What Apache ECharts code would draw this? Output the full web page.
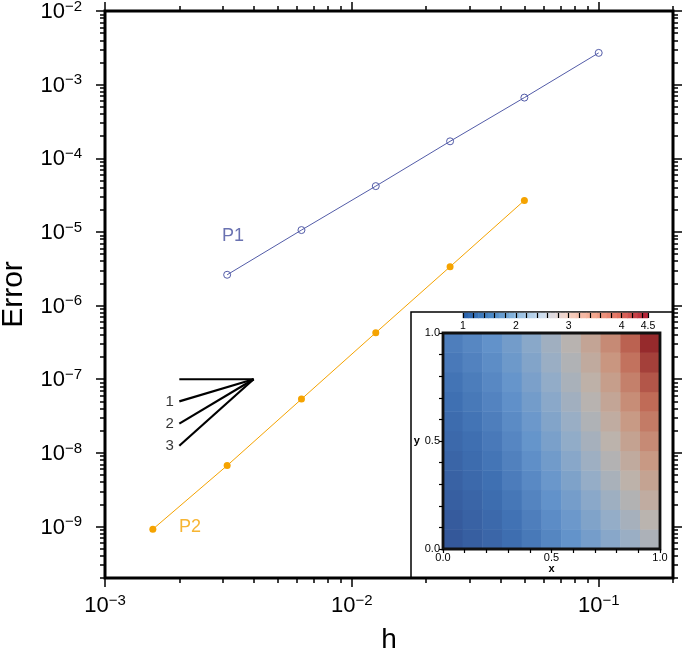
<!DOCTYPE html>
<html><head><meta charset="utf-8">
<script src="https://cdn.jsdelivr.net/npm/echarts@6/dist/echarts.min.js"></script>
<style>html,body{margin:0;padding:0;background:#fff}#c{width:685px;height:659px}</style>
</head><body><div id="c"></div>
<script>
// ---- data ----
const hP1 = [0.1, 0.05, 0.025, 0.0125, 0.00625, 0.003125];
const errP1 = [2.70e-3, 6.67e-4, 1.70e-4, 4.19e-5, 1.06e-5, 2.62e-6];
const hP2 = [0.05, 0.025, 0.0125, 0.00625, 0.003125, 0.0015625];
const errP2 = [2.68e-5, 3.37e-6, 4.28e-7, 5.37e-8, 6.73e-9, 9.2e-10];
const seriesNames = ['P1', 'P2'];
const labelPosP1 = [0.00330, 8.87e-6];
const labelPosP2 = [0.00221, 9.8e-10];
const slopeH = [0.002, 0.004];
const slopeApexErr = 1e-7;
const slopeOrders = [1, 2, 3];
const slopeEndErr = [5e-8, 2.5e-8, 1.25e-8];
const xRange = [1e-3, 0.2];
const yRange = [2e-10, 1e-2];
const xMajorTicks = [1e-3, 1e-2, 1e-1];
const yMajorTicks = [1e-10, 1e-9, 1e-8, 1e-7, 1e-6, 1e-5, 1e-4, 1e-3, 1e-2];
const minorMultipliers = [2, 3, 4, 5, 6, 7, 8, 9];
const insetX = [0, 0.1, 0.2, 0.3, 0.4, 0.5, 0.6, 0.7, 0.8, 0.9, 1.0];
const insetY = [0, 0.1, 0.2, 0.3, 0.4, 0.5, 0.6, 0.7, 0.8, 0.9, 1.0];
const insetLabels = [0, 0.5, 1];
// rows: y = 0 ... 1 ; columns: x = 0 ... 1
const insetField = [
  [1.00,1.14,1.30,1.46,1.62,1.80,1.98,2.18,2.38,2.58,2.80],
  [1.07,1.21,1.36,1.53,1.70,1.89,2.08,2.29,2.50,2.73,2.97],
  [1.14,1.28,1.43,1.60,1.78,1.97,2.18,2.40,2.63,2.88,3.14],
  [1.21,1.35,1.50,1.67,1.85,2.06,2.27,2.51,2.76,3.03,3.31],
  [1.28,1.41,1.57,1.74,1.93,2.14,2.37,2.62,2.89,3.17,3.48],
  [1.35,1.48,1.63,1.81,2.01,2.23,2.47,2.73,3.01,3.32,3.65],
  [1.42,1.55,1.70,1.88,2.08,2.31,2.56,2.84,3.14,3.47,3.82],
  [1.49,1.62,1.77,1.95,2.16,2.40,2.66,2.95,3.27,3.62,3.99],
  [1.56,1.68,1.84,2.02,2.24,2.48,2.76,3.06,3.40,3.76,4.16],
  [1.63,1.75,1.90,2.09,2.31,2.57,2.85,3.17,3.52,3.91,4.33],
  [1.70,1.82,1.97,2.16,2.39,2.65,2.95,3.28,3.65,4.06,4.50]
];
const colorbarSteps = [1.0,1.1,1.2,1.3,1.4,1.5,1.6,1.7,1.8,1.9,2.0,2.1,2.2,2.3,2.4,2.5,2.6,2.7,2.8,2.9,3.0,3.1,3.2,3.3,3.4,3.5,3.6,3.7,3.8,3.9,4.0,4.1,4.2,4.3,4.4,4.5];
const colorbarTicks = [1,1.2,1.4,1.6,1.8,2,2.2,2.4,2.6,2.8,3,3.2,3.4,3.6,3.8,4,4.2,4.4,4.5];
const colorbarLabels = [1, 2, 3, 4, 4.5];
const fieldRange = [1, 4.5];

// ---- styles ----
const FONT = 'Liberation Sans, Arial, Helvetica, sans-serif';
const C1 = '#535ca8', C1T = '#454f9e', C2 = '#f5a300';
const heatColors = ['#34589a','#3f70b2','#6494cb','#94adc8','#bcb4ad','#c99882','#c06a56','#962a2c'];
const barColors = ['#2b64ae','#4a88c6','#8fbbe0','#cfdff0','#f6d3c5','#f3a88f','#e1705f','#b52538'];

function minorOf(majors, range) {
  const out = [];
  majors.forEach(m => minorMultipliers.forEach(k => {
    const v = k * m;
    if (v >= range[0] * 0.999 && v <= range[1] * 1.001) out.push(v);
  }));
  return out;
}
const xMinor = minorOf([1e-4].concat(xMajorTicks), xRange);
const yMinor = minorOf(yMajorTicks, yRange);
const xMajorIn = xMajorTicks.filter(v => v >= xRange[0] && v <= xRange[1]);
const yMajorIn = yMajorTicks.filter(v => v >= yRange[0] && v <= yRange[1]);
const lg = v => Math.log10(v);

const supFmt = v => {
  const e = Math.round(Math.log10(v));
  return '{b|10}{e|' + (e < 0 ? '\u2212' : '') + Math.abs(e) + '}';
};
const supRich = {
  b: {fontSize: 22, fontFamily: FONT, color: '#000', verticalAlign: 'bottom', lineHeight: 24},
  e: {fontSize: 15, fontFamily: FONT, color: '#000', verticalAlign: 'top', lineHeight: 24}
};

// log axis carrying the data and labels
function logAxis(dim, pos) {
  const range = dim === 'x' ? xRange : yRange;
  const ticks = dim === 'x' ? xMajorIn : yMajorIn;
  return {
    type: 'log', logBase: 10, gridIndex: 0, position: pos,
    min: range[0], max: range[1],
    axisLine: {show: false, onZero: false},
    axisTick: {show: false},
    axisLabel: {show: true, customValues: ticks, formatter: supFmt, rich: supRich,
      margin: dim === 'x' ? 15 : 23, color: '#000'},
    splitLine: {show: false}, minorTick: {show: false}
  };
}
// tick-only axis in exponent space (same mapping as the log axis)
function tickAxis(dim, pos, major) {
  const range = dim === 'x' ? xRange : yRange;
  const ticks = major ? (dim === 'x' ? xMajorIn : yMajorIn) : (dim === 'x' ? xMinor : yMinor);
  return {
    type: 'value', gridIndex: 0, position: pos,
    min: lg(range[0]), max: lg(range[1]),
    axisLine: {show: false, onZero: false},
    axisTick: {show: true, inside: false, length: major ? 9 : 5, customValues: ticks.map(lg),
      lineStyle: {color: '#000', width: 1.5}},
    axisLabel: {show: false},
    splitLine: {show: false}, minorTick: {show: false}
  };
}

const xMain = logAxis('x', 'bottom');
xMain.name = 'h'; xMain.nameLocation = 'middle'; xMain.nameGap = 48;
xMain.nameTextStyle = {fontSize: 28, fontFamily: FONT, color: '#000'};
const yMain = logAxis('y', 'left');
yMain.name = 'Error'; yMain.nameLocation = 'middle'; yMain.nameGap = 76;
yMain.nameTextStyle = {fontSize: 30, fontFamily: FONT, color: '#000'};

const smallLabel = {fontSize: 11, fontFamily: FONT, color: '#000'};

const heatData = [];
insetField.forEach((row, j) => row.forEach((v, i) => heatData.push([i, j, v])));

const option = {
  backgroundColor: '#fff',
  animation: false,
  grid: [
    {left: 105, top: 11, right: 12, bottom: 81, show: true, borderColor: '#000', borderWidth: 3,
      backgroundColor: 'rgba(0,0,0,0)', z: 10, containLabel: false, outerBoundsMode: 'none'},
    {left: 411, top: 312, right: 12, bottom: 81, show: true, borderColor: '#000', borderWidth: 1.5,
      backgroundColor: '#fff', z: 1, containLabel: false, outerBoundsMode: 'none'},
    {left: 443, top: 333, right: 25, bottom: 110, show: true, borderColor: '#111', borderWidth: 2.8,
      backgroundColor: 'rgba(0,0,0,0)', z: 6, containLabel: false, outerBoundsMode: 'none'},
    {left: 463, top: 313, right: 37, height: 5, show: false, containLabel: false, outerBoundsMode: 'none'}
  ],
  xAxis: [
    xMain,
    tickAxis('x', 'bottom', true),
    tickAxis('x', 'bottom', false),
    tickAxis('x', 'top', true),
    tickAxis('x', 'top', false),
    {type: 'value', gridIndex: 1, show: false, min: 0, max: 1},
    {type: 'category', gridIndex: 2, position: 'top', show: false, data: insetX.map(String)},
    {type: 'value', gridIndex: 2, position: 'bottom', min: 0, max: 1, z: 6,
      axisLine: {show: false, onZero: false},
      axisTick: {show: true, length: 4, customValues: insetX, lineStyle: {color: '#000', width: 1.2}},
      axisLabel: {customValues: insetLabels, formatter: v => v.toFixed(1), margin: 3, ...smallLabel},
      splitLine: {show: false},
      name: 'x', nameLocation: 'middle', nameGap: 14, nameTextStyle: {...smallLabel, fontWeight: 'bold'}},
    {type: 'category', gridIndex: 3, position: 'top', show: false, data: colorbarSteps.map(String)},
    {type: 'value', gridIndex: 3, position: 'bottom', min: fieldRange[0], max: fieldRange[1], z: 6,
      axisLine: {show: false, onZero: false},
      axisTick: {show: true, inside: true, length: 5, customValues: colorbarTicks, lineStyle: {color: '#000', width: 1.2}},
      axisLabel: {customValues: colorbarLabels, formatter: v => String(v), margin: 3, ...smallLabel, fontSize: 10.5},
      splitLine: {show: false}}
  ],
  yAxis: [
    yMain,
    tickAxis('y', 'left', true),
    tickAxis('y', 'left', false),
    tickAxis('y', 'right', true),
    tickAxis('y', 'right', false),
    {type: 'value', gridIndex: 1, show: false, min: 0, max: 1},
    {type: 'category', gridIndex: 2, position: 'right', show: false, data: insetY.map(String)},
    {type: 'value', gridIndex: 2, position: 'left', min: 0, max: 1, z: 6,
      axisLine: {show: false, onZero: false},
      axisTick: {show: true, length: 4, customValues: insetY, lineStyle: {color: '#000', width: 1.2}},
      axisLabel: {customValues: insetLabels, formatter: v => v.toFixed(1), margin: 3, ...smallLabel},
      splitLine: {show: false},
      name: 'y', nameLocation: 'middle', nameRotate: 0, nameGap: 21, nameTextStyle: {...smallLabel, fontWeight: 'bold'}},
    {type: 'category', gridIndex: 3, show: false, data: ['cb']}
  ],
  visualMap: [
    {type: 'continuous', show: false, min: fieldRange[0], max: fieldRange[1], dimension: 2, seriesIndex: 6,
      inRange: {color: heatColors}},
    {type: 'continuous', show: false, min: fieldRange[0], max: fieldRange[1], dimension: 2, seriesIndex: 7,
      inRange: {color: barColors}}
  ],
  series: [
    {name: seriesNames[0], type: 'line', xAxisIndex: 0, yAxisIndex: 0, z: 3,
      data: hP1.map((h, i) => [h, errP1[i]]),
      symbol: 'circle', symbolSize: 7,
      itemStyle: {color: 'rgba(255,255,255,0)', borderColor: C1, borderWidth: 1},
      lineStyle: {color: C1, width: 1}},
    {name: seriesNames[1], type: 'line', xAxisIndex: 0, yAxisIndex: 0, z: 3,
      data: hP2.map((h, i) => [h, errP2[i]]),
      symbol: 'circle', symbolSize: 7,
      itemStyle: {color: C2},
      lineStyle: {color: C2, width: 1}},
    {type: 'line', xAxisIndex: 0, yAxisIndex: 0, symbol: 'none', silent: true,
      data: [[slopeH[0], slopeApexErr], [slopeH[1], slopeApexErr]],
      lineStyle: {color: '#000', width: 2.2}},
    {type: 'custom', xAxisIndex: 0, yAxisIndex: 0, silent: true,
      data: slopeOrders.map((p, i) => [slopeH[1], slopeApexErr, slopeH[0], slopeEndErr[i]]),
      renderItem: (params, api) => {
        const a = api.coord([api.value(0), api.value(1)]);
        const b = api.coord([api.value(2), api.value(3)]);
        return {type: 'line', shape: {x1: a[0], y1: a[1], x2: b[0], y2: b[1]},
          style: {stroke: '#000', lineWidth: 2.2}};
      }},
    {type: 'scatter', xAxisIndex: 0, yAxisIndex: 0, symbolSize: 1, silent: true,
      itemStyle: {color: 'rgba(0,0,0,0)'},
      data: slopeOrders.map((p, i) => ({value: [slopeH[0], slopeEndErr[i]], name: String(p)})),
      label: {show: true, position: 'left', distance: 5, formatter: '{b}', fontSize: 15, fontFamily: FONT, color: '#000'}},
    {type: 'scatter', xAxisIndex: 0, yAxisIndex: 0, symbolSize: 1, silent: true,
      itemStyle: {color: 'rgba(0,0,0,0)'},
      data: [
        {value: labelPosP1, name: seriesNames[0], label: {color: C1T}},
        {value: labelPosP2, name: seriesNames[1], label: {color: C2}}
      ],
      label: {show: true, position: 'inside', formatter: '{b}', fontSize: 18, fontFamily: FONT}},
    {type: 'heatmap', xAxisIndex: 6, yAxisIndex: 6, data: heatData, silent: true,
      itemStyle: {borderWidth: 0}},
    {type: 'heatmap', xAxisIndex: 8, yAxisIndex: 8, silent: true,
      data: colorbarSteps.map((v, i) => [i, 0, v]), itemStyle: {borderWidth: 0}}
  ]
};
const chart = echarts.init(document.getElementById('c'), null, {renderer: 'canvas'});
chart.setOption(option);
</script></body></html>
